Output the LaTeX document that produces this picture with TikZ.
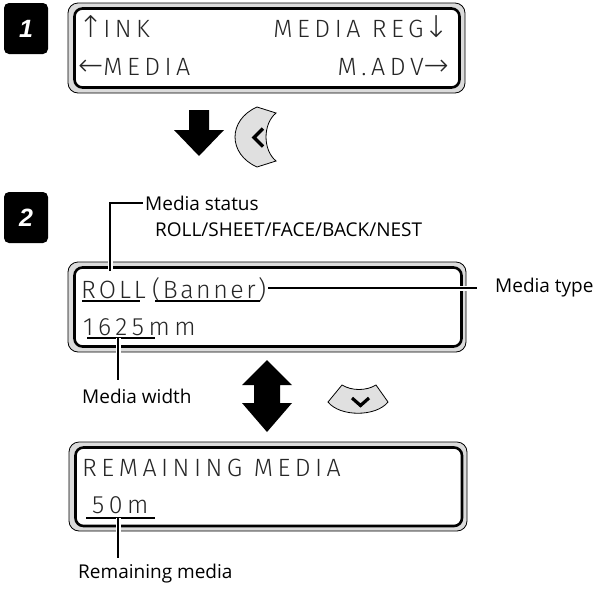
\documentclass[tikz,border=0pt]{standalone}
\usepackage{fontspec}
\setmainfont{Open Sans}
\newfontfamily\lcdfont{Fira Sans Light}[LetterSpace=18]
\newfontfamily\arrfont{DejaVu Sans ExtraLight}
\newfontfamily\badgefont{Liberation Sans}[ItalicFont={* Bold Italic}]
\newcommand\lcdarrow[1]{{\arrfont\fontsize{30}{30}\selectfont #1}}
\begin{document}
\begin{tikzpicture}[x=1pt,y=-1pt,
  outerframe/.style={draw=black,line width=0.8pt,fill=black!14,rounded corners=10pt},
  innerframe/.style={draw=black,line width=2.6pt,fill=white,rounded corners=8pt},
  lcdtext/.style={inner sep=0pt,font=\lcdfont\fontsize{25}{25}\selectfont,text=black!85},
  rolltext/.style={lcdtext,font=\lcdfont\fontsize{25}{25}\selectfont\addfontfeature{LetterSpace=12}},
  tighttext/.style={lcdtext,font=\lcdfont\fontsize{25}{25}\selectfont\addfontfeature{LetterSpace=10}},
  lbl/.style={inner sep=0pt,font=\fontsize{19}{22}\selectfont},
  badge/.style={fill=black,rounded corners=5pt,minimum width=44pt,minimum height=51pt,inner sep=0pt,text=white,font=\badgefont\itshape\fontsize{25}{25}\selectfont},
  uline/.style={draw=black,line width=1.1pt},
  leader/.style={draw=black,line width=1.1pt,preaction={draw=white,line width=5pt}},
  bigarrow/.style={fill=black},
  button/.style={draw=black,line width=0.8pt,fill=black!12},
  chev/.style={draw=black,line width=3.2pt}]
\useasboundingbox (0,0) rectangle (595,590);

% badges
\node[badge] (b1) at (26,28.5) {1};
\node[badge] (b2) at (26,217.5) {2};

% panel 1
\draw[outerframe] (68,3) rectangle (465,93);
\draw[innerframe] (74.5,8.5) rectangle (459.5,87.5);
\node[lcdtext,anchor=base west] (ink) at (78,37) {\lcdarrow{↑}INK};
\node[lcdtext,anchor=base east] (mreg) at (449,37) {MEDIA REG\lcdarrow{↓}};
\node[lcdtext,anchor=base west] (media) at (78,75) {\lcdarrow{←}MEDIA};
\node[lcdtext,anchor=base east] (madv) at (449,75) {M.ADV\lcdarrow{→}};

% down arrow + left button
\fill[bigarrow] (189,110) -- (209,110) -- (209,130) -- (224,130) -- (199,156) -- (174,130) -- (189,130) -- cycle;
\draw[button] (257,107) .. controls (227.7,120) and (227.7,154) .. (257,167) -- (276,161) .. controls (262.7,150) and (262.7,124) .. (276,113) -- cycle;
\draw[chev] (263,128.5) -- (254,137.5) -- (263,146.5);

% panel 2
\draw[outerframe] (68,262) rectangle (466,352);
\draw[innerframe] (74.5,267.5) rectangle (461.5,346.5);
\node[rolltext,anchor=base west] (roll) at (81,298) {ROLL};
\node[tighttext,anchor=base west] (banner) at (152,298) {(Banner)};
\node[lcdtext,anchor=base west] (width) at (83,335) {1625mm};
\draw[uline] (82,301) -- (140,301);
\draw[uline] (155,301) -- (260,301);
\draw[uline] (87,338) -- (155,338);

\node[lbl,anchor=west] (mstatus) at (145,203) {Media status};
\node[lbl,anchor=west] (mlist) at (155,230) {ROLL/SHEET/FACE/BACK/NEST};
\node[lbl,anchor=west] (mtype) at (495,288) {Media type};
\node[lbl,anchor=west] (mwidth) at (82,396) {Media width};

\coordinate (st0) at (110,271);
\coordinate (ty0) at (268,288);
\coordinate (wd0) at (118,338);
\coordinate (wd1) at (118,380);
\draw[leader] (st0) |- ([xshift=-2pt]mstatus.west);
\draw[leader] (ty0) -- ([xshift=-18pt]mtype.west);
\draw[leader] (wd0) -- (wd1);

% double arrow + down button
\fill[bigarrow] (267,360) -- (292,385) -- (280,385) -- (280,403) -- (292,403) -- (267,432) -- (242,403) -- (254,403) -- (254,385) -- (242,385) -- cycle;
\draw[button] (328,402) -- (342,385) .. controls (352,391) and (366,391) .. (376,385) -- (388,402) .. controls (376,417) and (340,417) .. cycle;
\draw[chev] (352,398) -- (360.5,405.5) -- (369,398);

% panel 3
\draw[outerframe] (69,442) rectangle (467,531);
\draw[innerframe] (75.5,447.5) rectangle (462,526);
\node[lcdtext,anchor=base west] (remain) at (82,476) {REMAINING MEDIA};
\node[lcdtext,anchor=base west] (fifty) at (92,513) {50m};
\draw[uline] (86,518) -- (155,518);
\node[lbl,anchor=west] (mremain) at (78,574) {Remaining media};
\coordinate (rm0) at (118,518);
\coordinate (rm1) at (118,558);
\draw[leader] (rm0) -- (rm1);
\end{tikzpicture}
\end{document}
